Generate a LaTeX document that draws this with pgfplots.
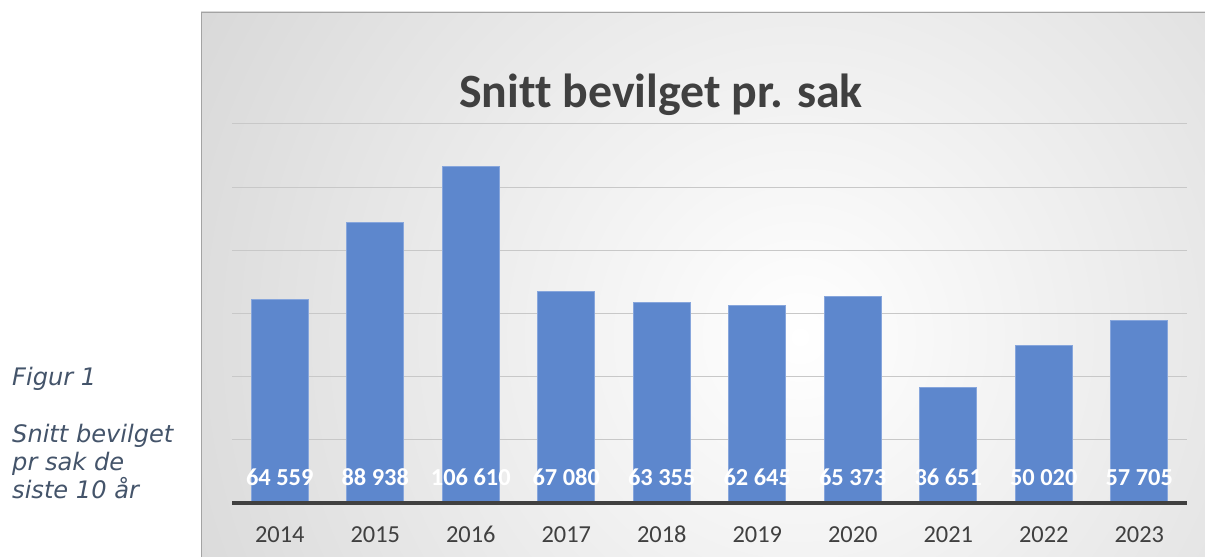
\documentclass[border=0pt]{standalone}
\usepackage{pgfplots}
\pgfplotsset{compat=1.18}
\usepackage{fontspec}
\setmainfont{Carlito}[Ligatures=NoCommon]
\newfontfamily\leftfont{DejaVu Sans}
\definecolor{barblue}{RGB}{93,135,205}
\definecolor{baredge}{RGB}{135,166,220}
\definecolor{txt}{RGB}{64,64,64}
\definecolor{sidetxt}{RGB}{68,84,106}
\definecolor{gridc}{RGB}{200,200,200}
\definecolor{bgedge}{RGB}{192,192,192}
\begin{document}
\begin{tikzpicture}[x=1bp,y=1bp]
\path[use as bounding box] (0,0) rectangle (1205,557);
\begin{scope}
\clip (201,0) rectangle (1205,545);
\shade[inner color=white, outer color=bgedge] (800,220) circle (1120);
\end{scope}
\draw[color=bgedge!85!black, line width=1.2bp] (201.5,0) -- (201.5,544.5) -- (1205,544.5);
\begin{axis}[at={(232bp,54bp)}, anchor=south west, scale only axis,
  width=955bp, height=379bp,
  xmin=-0.5, xmax=9.5, ymin=0, ymax=120000,
  ybar, bar width=57bp,
  xtick={0,1,2,3,4,5,6,7,8,9},
  xticklabels={2014,2015,2016,2017,2018,2019,2020,2021,2022,2023},
  ytick={20000,40000,60000,80000,100000,120000}, yticklabels={},
  scaled y ticks=false,
  ymajorgrids, grid style={gridc, line width=1bp},
  axis line style={draw=none}, major tick length=0pt,
  xticklabel style={font=\fontsize{24.5}{28}\selectfont, text=txt, anchor=base, yshift=-40bp},
  clip=false,
  visualization depends on={y \as \rawy},
  nodes near coords={\pgfmathprintnumber[fixed, precision=0, 1000 sep={\ }, assume math mode=true]{\pgfplotspointmeta}},
  nodes near coords style={shift={(axis direction cs:0,-\rawy)}, anchor=base, yshift=17bp,
    font=\bfseries\fontsize{24.5}{28}\selectfont, text=white},
]
\addplot[fill=barblue, draw=baredge, line width=0.8bp] coordinates {
  (0,64559) (1,88938) (2,106610) (3,67080) (4,63355)
  (5,62645) (6,65373) (7,36651) (8,50020) (9,57705)};
\draw[txt, line width=3.5bp] (axis cs:-0.5,0) -- (axis cs:9.5,0);
\end{axis}
\node[anchor=base, text=txt, font=\bfseries\fontsize{48}{52}\selectfont] at (661,449) {Snitt bevilget pr. sak};
\begin{scope}[every node/.style={anchor=base west, inner sep=0pt, text=sidetxt, font=\leftfont\itshape\fontsize{24.2}{28}\selectfont}]
\node at (12,171) {Figur 1};
\node at (12,114) {Snitt bevilget};
\node at (12,86) {pr sak de};
\node at (12,58) {siste 10 år};
\end{scope}
\end{tikzpicture}
\end{document}
